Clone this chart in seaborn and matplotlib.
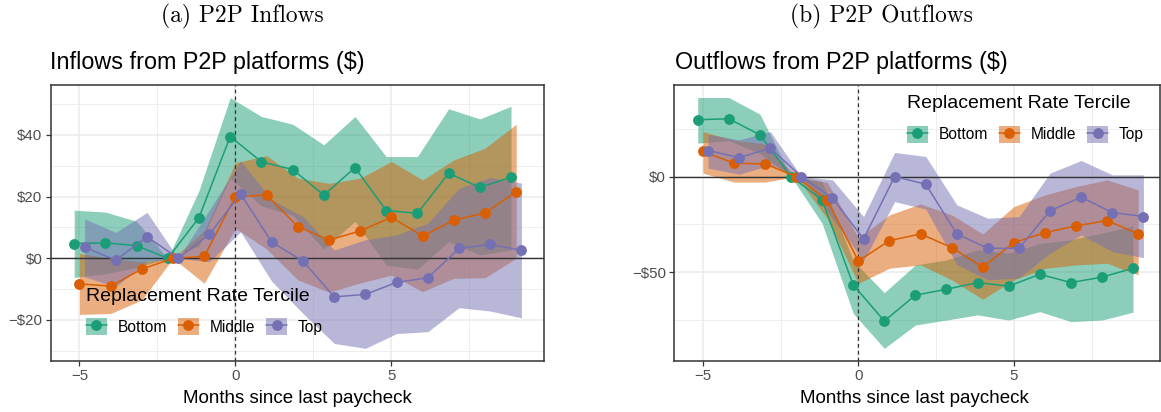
import numpy as np
import pandas as pd
import matplotlib
matplotlib.use("Agg")
import matplotlib.pyplot as plt
import seaborn as sns
from matplotlib.patches import Patch
from matplotlib.lines import Line2D
from matplotlib.ticker import FixedLocator, FuncFormatter

# ---------------- data ----------------
months = list(range(-5, 10))
groups = ["Bottom", "Middle", "Top"]

in_bottom = [4.8, 5.0, 4.1, 0, 13.2, 39.5, 31.3, 28.8, 20.5, 29.4, 15.5, 14.6, 27.6, 23.0, 26.3]
in_bottom_hi = [15.6, 15.0, 12.0, 0, 22, 52.1, 46.0, 43.5, 36.8, 46.0, 33.0, 33.0, 48.5, 45.2, 49.3]
in_bottom_lo = [-6.2, -5, -3, 0, 4, 26, 17, 14, 3, 12, -2.2, -3.5, 5.4, 1.1, 2.7]

in_middle = [-8.3, -9.0, -3.5, 0, 0.6, 20.0, 20.5, 10.3, 5.9, 8.9, 13.3, 7.2, 12.4, 14.7, 21.6]
in_middle_hi = [1.6, 0, -1.1, 0, 9, 31, 33.3, 26, 24.3, 26, 31.4, 25.4, 31.9, 35.7, 43.5]
in_middle_lo = [-18.2, -17.9, -13.5, 0, -8.1, 9.7, 3, -7, -11, -8, -5.5, -10.8, -6.5, -6.3, 0]

in_top = [3.6, -0.6, 7.0, 0, 7.8, 20.9, 5.2, -0.9, -12.5, -11.7, -7.8, -6.3, 3.2, 4.5, 2.6]
in_top_hi = [12.8, 8.4, 14.9, 0, 15.7, 31.6, 19, 13.5, 2.7, 6, 7.6, 11.4, 22.7, 26.2, 24.4]
in_top_lo = [-6, -9.2, -1, 0, -1.1, 8.6, -7.5, -17.9, -27.6, -29.2, -24.4, -23.8, -16.0, -17.1, -19.3]

out_bottom = [29.7, 30.2, 21.8, 0, -12.2, -56.6, -75.5, -62.0, -58.9, -55.4, -57.3, -51.1, -55.4, -52.6, -47.9]
out_bottom_hi = [41.3, 41.3, 32.6, 0, -2.6, -44, -60.7, -46.2, -43.6, -38.3, -40, -35, -33, -29.6, -25.8]
out_bottom_lo = [17.5, 18.8, 12, 0, -24.4, -71.5, -89.8, -77.6, -75.0, -72.3, -75, -70.6, -75.8, -75, -70.9]

out_middle = [13.1, 7.0, 6.6, 0, -12.5, -44.1, -33.5, -30.0, -37.1, -47.4, -34.5, -29.3, -25.8, -23.0, -30.0]
out_middle_hi = [23.5, 19, 17, 0, -3, -32, -20.0, -14.3, -20, -30, -15.7, -9.6, -5.2, -1.7, -7.0]
out_middle_lo = [1.8, -2.9, -2.9, 0, -22, -55.8, -47.9, -46.2, -54.0, -64.1, -54, -48, -46.2, -45.3, -51.4]

out_top = [13.6, 9.9, 14.8, 0, -11.3, -32.6, 0, -4.0, -30.0, -37.5, -37.5, -17.8, -10.8, -18.8, -20.9]
out_top_hi = [22, 19.2, 23.5, 0, -1.7, -20.9, 12.6, 10.5, -14.8, -21.8, -20.9, 1.8, 8.4, 0.9, 0.9]
out_top_lo = [4.4, 1.2, 6, 0, -22, -44, -13.1, -17, -46, -54, -53, -40, -30.5, -39.2, -42.4]

captions = ["(a) P2P Inflows", "(b) P2P Outflows"]
titles = ["Inflows from P2P platforms ($)", "Outflows from P2P platforms ($)"]
xlabel = "Months since last paycheck"
legend_title = "Replacement Rate Tercile"

# ---------------- style ----------------
colors = ["#1B9E77", "#D95F02", "#7570B3"]
dodge = [-1 / 6, 0, 1 / 6]

sns.set_theme(style="white")
plt.rcParams['font.family'] = ['Liberation Sans', 'DejaVu Sans']
plt.rcParams['text.color'] = 'black'
plt.rcParams['legend.labelcolor'] = 'black'

W, H = 1161, 412
fig = plt.figure(figsize=(W / 100, H / 100), dpi=100)


def fx(px):
    return px / W


def fy(py):
    return 1 - py / H


def make_df(vals, his, los):
    rows = []
    for g, d, v, h, l in zip(groups, dodge, vals, his, los):
        for m, vv, hh, ll in zip(months, v, h, l):
            rows.append(dict(group=g, month=m, x=m + d, value=vv, hi=hh, lo=ll))
    return pd.DataFrame(rows)


df_in = make_df([in_bottom, in_middle, in_top],
                [in_bottom_hi, in_middle_hi, in_top_hi],
                [in_bottom_lo, in_middle_lo, in_top_lo])
df_out = make_df([out_bottom, out_middle, out_top],
                 [out_bottom_hi, out_middle_hi, out_top_hi],
                 [out_bottom_lo, out_middle_lo, out_top_lo])


def dollar(v, pos):
    v = int(round(v))
    if v < 0:
        return "\u2212$" + str(-v)
    return "$" + str(v)


def draw(ax, df, ylim, xlim, ymajor, yminor):
    ax.set_xlim(*xlim)
    ax.set_ylim(*ylim)
    ax.xaxis.set_major_locator(FixedLocator([-5, 0, 5]))
    ax.xaxis.set_minor_locator(FixedLocator([-2.5, 2.5, 7.5]))
    ax.yaxis.set_major_locator(FixedLocator(ymajor))
    ax.yaxis.set_minor_locator(FixedLocator(yminor))
    ax.yaxis.set_major_formatter(FuncFormatter(dollar))
    ax.xaxis.set_major_formatter(FuncFormatter(lambda v, p: ("\u2212" if v < 0 else "") + str(abs(int(v)))))
    ax.grid(which="major", color="#EBEBEB", lw=1.1, zorder=0)
    ax.grid(which="minor", color="#EBEBEB", lw=0.6, zorder=0)
    ax.set_axisbelow(True)
    for s in ax.spines.values():
        s.set_color("#333333")
        s.set_linewidth(1.1)
    ax.tick_params(axis="both", which="major", length=3.5, width=0.9, color="#333333",
                   labelsize=10.8, labelcolor="#4D4D4D", pad=2.5, bottom=True, left=True)
    ax.tick_params(which="minor", length=0)
    for g, c in zip(groups, colors):
        sub = df[df.group == g]
        ax.fill_between(sub.x, sub.lo, sub.hi, color=c, alpha=0.5, lw=0, zorder=1)
    ax.axhline(0, color="#333333", lw=1.0, zorder=2)
    ax.axvline(0, color="#333333", lw=0.9, ls=(0, (3, 2.5)), zorder=2)
    sns.lineplot(data=df, x="x", y="value", hue="group", palette=colors, hue_order=groups,
                 marker="o", markersize=7.8, markeredgewidth=0, lw=1.1, estimator=None,
                 legend=False, ax=ax, zorder=3)
    ax.set_xlabel("")
    ax.set_ylabel("")


ax1 = fig.add_axes([fx(50.7), fy(361), fx(544 - 50.7), (361 - 84.7) / H])
draw(ax1, df_in, (-33.3, 56.3), (-5.92, 9.89), [-20, 0, 20, 40], [-30, -10, 10, 30, 50])
ax2 = fig.add_axes([fx(674.3), fy(361), fx(1160 - 674.3), (361 - 84.7) / H])
draw(ax2, df_out, (-96.4, 48.0), (-5.92, 9.7), [-50, 0], [-75, -25, 25])

# captions / titles / x labels
fig.text(fx(242.5), fy(22), captions[0], family="cmr10", fontsize=16.9, ha="center", va="baseline")
fig.text(fx(881), fy(22), captions[1], family="cmr10", fontsize=16.9, ha="center", va="baseline")
fig.text(fx(50), fy(69), titles[0], fontsize=16.8, ha="left", va="baseline")
fig.text(fx(675), fy(69), titles[1], fontsize=16.8, ha="left", va="baseline")
fig.text(fx((50.7 + 544) / 2), fy(402.7), xlabel, fontsize=13.5, ha="center", va="baseline")
fig.text(fx((674.3 + 1160) / 2 - 3), fy(402.7), xlabel, fontsize=13.5, ha="center", va="baseline")

# legends
handles = []
for c in colors:
    p = Patch(facecolor=c, alpha=0.5, edgecolor="none")
    l = Line2D([], [], color=c, lw=1.1, marker="o", markersize=7.8, markeredgewidth=0)
    handles.append((p, l))


def add_legend(ax, left_px, top_px):
    leg = ax.legend(handles, groups, ncol=3, title=legend_title, frameon=False,
                    loc="upper left", bbox_to_anchor=(fx(left_px), fy(top_px)),
                    bbox_transform=fig.transFigure, fontsize=11.2, title_fontsize=14,
                    handlelength=1.35, handleheight=1.3, handletextpad=0.68,
                    columnspacing=0.72, labelspacing=0.85,
                    borderpad=0, borderaxespad=0, alignment="left")
    leg.get_title().set_color("black")
    return leg


add_legend(ax1, 85.7, 288)
add_legend(ax2, 906.7, 95.5)

fig.savefig("out.png", dpi=100)
